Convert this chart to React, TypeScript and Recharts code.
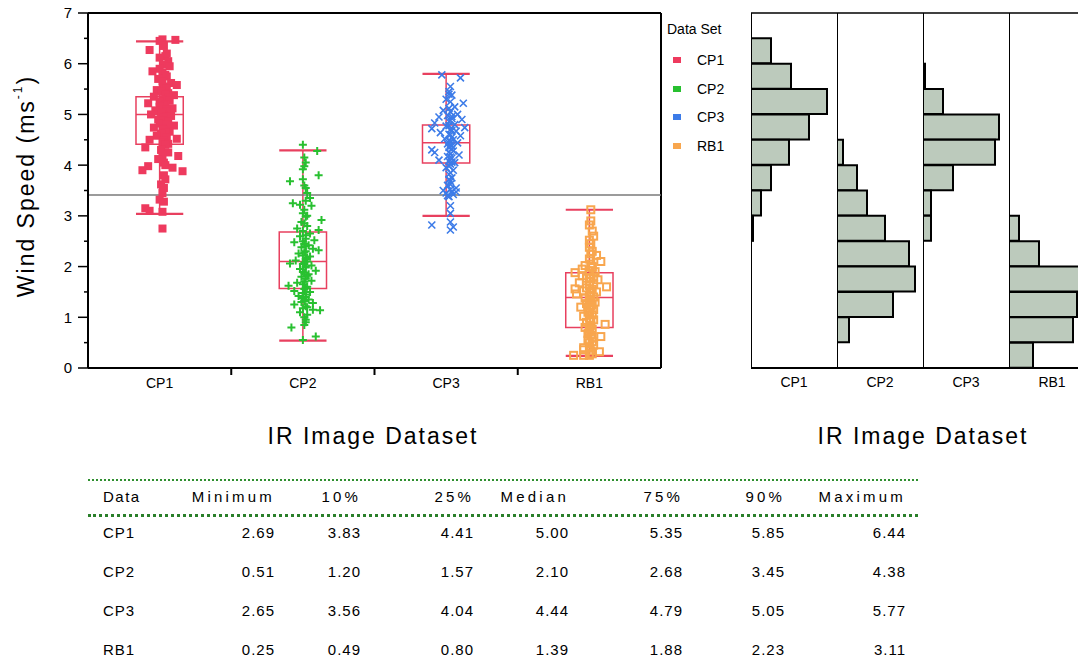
import React from "react";
import { ComposedChart, Scatter, XAxis, YAxis, ReferenceLine, ReferenceArea, BarChart, Bar } from "recharts";

const categories = ["CP1", "CP2", "CP3", "RB1"];

// [wind speed, jitter in category units]
const cp1Points = [
  [6.48, 0.02], [6.47, 0.11], [6.45, 0.0], [6.35, 0.03], [6.27, -0.07], [6.2, 0.05], [6.15, 0.04], [6.12, 0.0],
  [6.05, 0.06], [5.98, 0.03], [5.95, 0.07], [5.9, 0.0], [5.85, -0.05], [5.82, 0.02], [5.78, 0.04], [5.75, 0.05],
  [5.7, -0.01], [5.65, 0.02], [5.62, 0.08], [5.58, 0.12], [5.55, 0.03], [5.52, 0.05], [5.48, -0.02], [5.45, 0.01],
  [5.42, 0.06], [5.4, 0.04], [5.38, 0.1], [5.35, -0.04], [5.33, 0.06], [5.3, 0.02], [5.27, 0.07], [5.25, 0.0],
  [5.22, -0.08], [5.2, 0.04], [5.18, 0.03], [5.15, 0.0], [5.12, 0.09], [5.1, 0.05], [5.08, -0.03], [5.05, 0.05],
  [5.04, 0.02], [5.02, 0.01], [5.0, -0.06], [4.97, 0.08], [4.95, 0.05], [4.93, 0.03], [4.9, -0.01], [4.88, 0.03],
  [4.86, 0.06], [4.82, 0.0], [4.8, 0.05], [4.78, 0.1], [4.74, -0.04], [4.72, 0.02], [4.7, 0.03], [4.66, 0.07],
  [4.64, 0.04], [4.62, 0.01], [4.58, -0.02], [4.55, 0.05], [4.52, 0.12], [4.5, -0.07], [4.48, 0.03], [4.45, 0.02],
  [4.42, 0.06], [4.4, 0.04], [4.35, -0.1], [4.3, 0.01], [4.25, 0.06], [4.2, 0.02], [4.18, 0.13], [4.12, -0.01],
  [4.05, 0.03], [4.0, 0.04], [3.98, -0.08], [3.95, 0.09], [3.9, -0.12], [3.88, 0.16], [3.8, 0.03], [3.72, 0.04],
  [3.62, 0.01], [3.55, 0.03], [3.45, 0.02], [3.32, 0.0], [3.28, 0.03], [3.15, -0.1], [3.1, -0.07], [3.08, 0.02],
  [2.75, 0.02],
];
const cp2Points = [
  [4.4, 0.0], [4.28, 0.1], [4.15, 0.01], [4.05, 0.02], [3.98, 0.01], [3.92, 0.0], [3.8, 0.11], [3.72, 0.0],
  [3.68, -0.09], [3.6, 0.01], [3.55, 0.02], [3.45, 0.03], [3.35, 0.05], [3.3, 0.02], [3.25, -0.07], [3.22, -0.02],
  [3.2, 0.06], [3.12, 0.01], [3.05, 0.0], [3.0, 0.03], [2.98, 0.02], [2.92, 0.13], [2.88, -0.01], [2.85, 0.01],
  [2.8, 0.03], [2.75, -0.04], [2.72, 0.11], [2.7, 0.0], [2.65, 0.05], [2.62, 0.02], [2.6, -0.02], [2.55, 0.02],
  [2.52, 0.08], [2.5, 0.0], [2.48, -0.06], [2.45, 0.01], [2.42, 0.04], [2.4, 0.02], [2.38, -0.01], [2.35, 0.07],
  [2.32, 0.11], [2.3, 0.02], [2.28, 0.01], [2.26, -0.03], [2.22, 0.0], [2.2, 0.05], [2.18, 0.03], [2.15, 0.02],
  [2.12, -0.05], [2.1, 0.03], [2.08, 0.01], [2.06, -0.09], [2.05, 0.0], [2.02, 0.06], [2.0, 0.02], [1.98, 0.02],
  [1.95, -0.02], [1.92, 0.09], [1.9, 0.0], [1.88, 0.01], [1.85, 0.04], [1.82, 0.03], [1.8, -0.01], [1.76, 0.02],
  [1.72, 0.06], [1.7, 0.01], [1.68, -0.04], [1.65, 0.0], [1.62, -0.1], [1.6, 0.03], [1.58, 0.02], [1.56, 0.01],
  [1.52, -0.06], [1.5, 0.05], [1.48, 0.0], [1.45, 0.02], [1.42, -0.03], [1.4, 0.02], [1.38, 0.0], [1.35, 0.04],
  [1.32, 0.01], [1.3, -0.01], [1.28, 0.07], [1.25, -0.06], [1.22, 0.02], [1.2, 0.03], [1.18, 0.0], [1.15, 0.07],
  [1.14, 0.12], [1.1, -0.02], [1.05, 0.03], [1.0, 0.01], [0.95, 0.02], [0.9, 0.02], [0.85, 0.01], [0.8, -0.08],
  [0.62, 0.09], [0.55, 0.0],
];
const cp3Points = [
  [5.78, -0.03], [5.72, 0.1], [5.55, 0.03], [5.45, 0.02], [5.4, 0.02], [5.38, 0.04], [5.3, 0.0], [5.25, 0.03],
  [5.22, 0.12], [5.15, 0.06], [5.12, 0.02], [5.08, -0.02], [5.05, 0.03], [5.0, 0.08], [4.98, 0.01], [4.96, 0.04],
  [4.95, -0.05], [4.92, 0.04], [4.9, 0.11], [4.88, 0.03], [4.86, 0.02], [4.83, -0.08], [4.8, 0.06], [4.78, 0.02],
  [4.77, 0.0], [4.74, 0.13], [4.72, -0.1], [4.7, 0.03], [4.68, 0.04], [4.67, 0.07], [4.64, -0.04], [4.61, 0.02],
  [4.6, 0.03], [4.58, 0.1], [4.55, 0.04], [4.52, -0.01], [4.5, 0.05], [4.48, 0.02], [4.47, 0.03], [4.44, 0.08],
  [4.42, 0.01], [4.4, 0.03], [4.38, 0.04], [4.35, 0.02], [4.32, 0.04], [4.3, -0.1], [4.28, 0.05], [4.26, 0.02],
  [4.25, -0.08], [4.22, 0.03], [4.2, 0.09], [4.17, 0.01], [4.16, 0.03], [4.14, 0.04], [4.1, -0.05], [4.08, 0.02],
  [4.06, 0.04], [4.05, 0.06], [4.02, 0.03], [3.98, 0.02], [3.95, 0.0], [3.9, 0.05], [3.85, 0.03], [3.82, 0.02],
  [3.75, 0.04], [3.72, 0.02], [3.68, 0.03], [3.62, 0.03], [3.6, 0.01], [3.55, 0.07], [3.52, 0.03], [3.5, -0.02],
  [3.48, 0.04], [3.47, 0.07], [3.45, 0.0], [3.42, 0.05], [3.4, 0.01], [3.38, 0.02], [3.2, 0.03], [3.05, 0.03],
  [2.88, 0.03], [2.82, -0.1], [2.78, 0.05], [2.72, 0.03],
];
const rb1Points = [
  [3.12, 0.01], [2.9, 0.01], [2.82, 0.0], [2.7, 0.02], [2.6, 0.03], [2.52, 0.0], [2.45, 0.01], [2.38, 0.0],
  [2.3, 0.02], [2.25, 0.01], [2.22, 0.05], [2.15, 0.0], [2.1, 0.08], [2.05, 0.01], [2.02, -0.03], [2.0, 0.02],
  [1.98, 0.02], [1.95, -0.05], [1.92, 0.0], [1.9, 0.04], [1.88, -0.1], [1.85, 0.0], [1.82, -0.05], [1.8, 0.03],
  [1.78, 0.01], [1.77, -0.02], [1.74, 0.06], [1.7, 0.0], [1.68, -0.07], [1.65, 0.03], [1.62, 0.0], [1.6, 0.12],
  [1.58, -0.02], [1.56, -0.1], [1.55, 0.02], [1.52, -0.04], [1.5, 0.05], [1.48, 0.01], [1.46, -0.09], [1.43, 0.0],
  [1.4, 0.03], [1.38, -0.03], [1.35, 0.01], [1.33, 0.0], [1.3, 0.04], [1.27, -0.02], [1.24, 0.02], [1.22, 0.01],
  [1.2, -0.06], [1.18, 0.0], [1.15, 0.03], [1.1, -0.01], [1.08, 0.0], [1.05, 0.02], [1.02, -0.04], [0.98, 0.0],
  [0.95, 0.03], [0.92, 0.01], [0.9, -0.02], [0.86, 0.11], [0.84, 0.01], [0.8, -0.03], [0.78, 0.0], [0.76, 0.02],
  [0.72, 0.0], [0.68, -0.01], [0.65, 0.01], [0.62, 0.08], [0.6, 0.02], [0.55, -0.01], [0.52, 0.02], [0.5, 0.0],
  [0.45, 0.03], [0.42, 0.0], [0.4, -0.04], [0.36, -0.04], [0.34, 0.01], [0.32, 0.07], [0.28, 0.02], [0.25, -0.11],
  [0.25, -0.04], [0.25, 0.0],
];

// whisker low, Q1, median, Q3, whisker high
const cp1Box = [3.04, 4.41, 5.0, 5.35, 6.44];
const cp2Box = [0.54, 1.57, 2.1, 2.68, 4.29];
const cp3Box = [3.0, 4.04, 4.44, 4.79, 5.8];
const rb1Box = [0.24, 0.8, 1.39, 1.88, 3.12];
const refLevel = 3.41;

// histogram bins, top to bottom
const histBins = [
  "6.5-7.0", "6.0-6.5", "5.5-6.0", "5.0-5.5", "4.5-5.0", "4.0-4.5", "3.5-4.0",
  "3.0-3.5", "2.5-3.0", "2.0-2.5", "1.5-2.0", "1.0-1.5", "0.5-1.0", "0.0-0.5",
];
const cp1Hist = [0, 10, 20, 38, 29, 19, 10, 5, 1, 0, 0, 0, 0, 0];
const cp2Hist = [0, 0, 0, 0, 0, 3, 10, 15, 24, 36, 39, 28, 6, 0];
const cp3Hist = [0, 0, 1, 10, 38, 36, 15, 4, 4, 0, 0, 0, 0, 0];
const rb1Hist = [0, 0, 0, 0, 0, 0, 0, 0, 5, 15, 39, 34, 32, 12];

const statHeaders = ["Data", "Minimum", "10%", "25%", "Median", "75%", "90%", "Maximum"];
const cp1Stats = [2.69, 3.83, 4.41, 5.0, 5.35, 5.85, 6.44];
const cp2Stats = [0.51, 1.2, 1.57, 2.1, 2.68, 3.45, 4.38];
const cp3Stats = [2.65, 3.56, 4.04, 4.44, 4.79, 5.05, 5.77];
const rb1Stats = [0.25, 0.49, 0.8, 1.39, 1.88, 2.23, 3.11];

const FONT = '"Liberation Sans", Arial, sans-serif';
const PLOT_LEFT = 88;
const PLOT_BOTTOM = 368;
const BOX_HALF = 0.165;
const BOX_COLOR = "#e8405f";
const COLORS = ["#ee3a5e", "#28c030", "#3c7be8", "#f8a64e"];
const HIST_W = 86;
const HIST_LEFT = 751;

const pointSets = [cp1Points, cp2Points, cp3Points, rb1Points];
const boxes = [cp1Box, cp2Box, cp3Box, rb1Box];
const hists = [cp1Hist, cp2Hist, cp3Hist, rb1Hist];
const statRows = [cp1Stats, cp2Stats, cp3Stats, rb1Stats];

const histData = histBins.map((bin, i) => {
  const row: any = { bin };
  categories.forEach((c, k) => (row[c] = hists[k][i]));
  return row;
});

function XTick(props: any) {
  const { x, payload } = props;
  const v = payload.value;
  if (Number.isInteger(v)) {
    return (
      <text x={x} y={PLOT_BOTTOM + 20} textAnchor="middle" fontSize={14} fontFamily={FONT} fill="#000">
        {categories[v - 1]}
      </text>
    );
  }
  return <line x1={x} x2={x} y1={PLOT_BOTTOM} y2={PLOT_BOTTOM + 7} stroke="#000" strokeWidth={2} />;
}

function YTick(props: any) {
  const { y, payload } = props;
  const v = payload.value;
  if (Number.isInteger(v)) {
    return (
      <g>
        <line x1={PLOT_LEFT - 10} x2={PLOT_LEFT} y1={y} y2={y} stroke="#000" strokeWidth={1.5} />
        <text x={PLOT_LEFT - 16} y={y} dy="0.36em" textAnchor="end" fontSize={15} fontFamily={FONT} fill="#000">
          {v}
        </text>
      </g>
    );
  }
  return <line x1={PLOT_LEFT - 4} x2={PLOT_LEFT} y1={y} y2={y} stroke="#000" strokeWidth={1.5} />;
}

function YLabel() {
  const cx = 26;
  const cy = 186;
  return (
    <text
      x={cx}
      y={cy}
      transform={`rotate(-90 ${cx} ${cy})`}
      textAnchor="middle"
      dominantBaseline="central"
      fontSize={23}
      fontFamily={FONT}
      fill="#000"
      style={{ letterSpacing: 2 }}
    >
      Wind Speed (ms
      <tspan dy={-8} fontSize={12}>-1</tspan>
      <tspan dy={8}>)</tspan>
    </text>
  );
}

const shapes = [
  (p: any) => <rect x={p.cx - 4} y={p.cy - 4} width={8} height={8} fill={COLORS[0]} />,
  (p: any) => (
    <path d={`M${p.cx - 4},${p.cy}H${p.cx + 4}M${p.cx},${p.cy - 4}V${p.cy + 4}`} stroke={COLORS[1]} strokeWidth={2} />
  ),
  (p: any) => (
    <path
      d={`M${p.cx - 3.5},${p.cy - 3.5}L${p.cx + 3.5},${p.cy + 3.5}M${p.cx - 3.5},${p.cy + 3.5}L${p.cx + 3.5},${p.cy - 3.5}`}
      stroke={COLORS[2]}
      strokeWidth={1.6}
    />
  ),
  (p: any) => (
    <rect x={p.cx - 3.5} y={p.cy - 3.5} width={7} height={7} fill="none" stroke={COLORS[3]} strokeWidth={2} />
  ),
];

function MainChart() {
  return (
    <ComposedChart width={680} height={400} margin={{ top: 13, right: 19, bottom: 0, left: 0 }}>
      <XAxis
        type="number"
        dataKey="x"
        domain={[0.5, 4.5]}
        ticks={[1, 1.5, 2, 2.5, 3, 3.5, 4]}
        interval={0}
        height={32}
        axisLine={{ stroke: "#000", strokeWidth: 2 }}
        tickLine={false}
        tick={<XTick />}
      />
      <YAxis
        type="number"
        dataKey="y"
        domain={[0, 7]}
        ticks={[0, 0.5, 1, 1.5, 2, 2.5, 3, 3.5, 4, 4.5, 5, 5.5, 6, 6.5, 7]}
        interval={0}
        width={PLOT_LEFT}
        axisLine={{ stroke: "#000", strokeWidth: 2 }}
        tickLine={false}
        tick={<YTick />}
        label={<YLabel />}
      />
      <ReferenceLine y={7} stroke="#000" strokeWidth={2} />
      <ReferenceLine x={4.5} stroke="#000" strokeWidth={2} />
      {boxes.flatMap((b, i) => {
        const c = i + 1;
        const [lo, q1, med, q3, hi] = b;
        return [
          <ReferenceLine key={`wl${i}`} segment={[{ x: c, y: lo }, { x: c, y: q1 }]} stroke={BOX_COLOR} strokeWidth={1.5} />,
          <ReferenceLine key={`wh${i}`} segment={[{ x: c, y: q3 }, { x: c, y: hi }]} stroke={BOX_COLOR} strokeWidth={1.5} />,
          <ReferenceArea key={`b${i}`} x1={c - BOX_HALF} x2={c + BOX_HALF} y1={q1} y2={q3} fill="none" fillOpacity={0} stroke={BOX_COLOR} strokeWidth={1.5} />,
          <ReferenceLine key={`m${i}`} segment={[{ x: c - BOX_HALF, y: med }, { x: c + BOX_HALF, y: med }]} stroke={BOX_COLOR} strokeWidth={1.5} />,
          <ReferenceLine key={`cl${i}`} segment={[{ x: c - BOX_HALF, y: lo }, { x: c + BOX_HALF, y: lo }]} stroke={BOX_COLOR} strokeWidth={2.2} />,
          <ReferenceLine key={`ch${i}`} segment={[{ x: c - BOX_HALF, y: hi }, { x: c + BOX_HALF, y: hi }]} stroke={BOX_COLOR} strokeWidth={2.2} />,
        ];
      })}
      <ReferenceLine y={refLevel} stroke="#7a7a7a" strokeWidth={1.5} />
      {pointSets.map((pts, i) => (
        <Scatter
          key={categories[i]}
          name={categories[i]}
          data={pts.map(([v, j]) => ({ x: i + 1 + j, y: v }))}
          shape={shapes[i]}
          isAnimationActive={false}
        />
      ))}
    </ComposedChart>
  );
}

function HistPanel({ name, left }: { name: string; left: number }) {
  return (
    <div style={{ position: "absolute", left, top: 0 }}>
      <BarChart
        layout="vertical"
        width={HIST_W}
        height={400}
        data={histData}
        margin={{ top: 13, right: 0, bottom: 0, left: 0 }}
        barCategoryGap={0}
      >
        <XAxis
          type="number"
          domain={[0, 43]}
          height={32}
          tick={false}
          tickLine={false}
          axisLine={{ stroke: "#000", strokeWidth: 2 }}
          label={{ value: name, position: "insideTop", offset: 9, fontSize: 14, fill: "#000", fontFamily: FONT }}
        />
        <YAxis type="category" dataKey="bin" hide />
        <ReferenceLine y={histBins[0]} position="start" stroke="#000" strokeWidth={1.5} />
        <Bar dataKey={name} fill="#bccabc" stroke="#000" strokeWidth={2} isAnimationActive={false} />
        <ReferenceLine x={0} stroke="#000" strokeWidth={2} />
      </BarChart>
    </div>
  );
}

const colRight = [275, 361, 474, 569, 683, 785, 906];
const rowY = [533, 572, 611, 650];

function StatsTable() {
  const cell = (text: string, right: number, y: number, spacing: number, key: string) => (
    <div
      key={key}
      style={{
        position: "absolute",
        left: right - 120,
        width: 120,
        top: y - 10,
        lineHeight: "20px",
        textAlign: "right",
        fontSize: 15,
        letterSpacing: spacing,
      }}
    >
      {text}
    </div>
  );
  const leftCell = (text: string, y: number, spacing: number, key: string) => (
    <div key={key} style={{ position: "absolute", left: 103, top: y - 10, lineHeight: "20px", fontSize: 15, letterSpacing: spacing }}>
      {text}
    </div>
  );
  return (
    <>
      <div style={{ position: "absolute", left: 88, width: 830, top: 479, height: 0, borderTop: "2px dotted #2f8f2f" }} />
      <div style={{ position: "absolute", left: 88, width: 830, top: 514, height: 0, borderTop: "3px dotted #2a7f2a" }} />
      <div style={{ position: "absolute", left: 88, width: 830, top: 658, height: 0, borderTop: "2px dotted #2f8f2f" }} />
      {leftCell(statHeaders[0], 497, 1.5, "h0")}
      {statHeaders.slice(1).map((h, k) => cell(h, colRight[k], 497, 3.2, `h${k + 1}`))}
      {statRows.map((row, r) => (
        <React.Fragment key={categories[r]}>
          {leftCell(categories[r], rowY[r], 1, `r${r}`)}
          {row.map((v, k) => cell(v.toFixed(2), colRight[k], rowY[r], 1, `c${r}-${k}`))}
        </React.Fragment>
      ))}
    </>
  );
}

export default function App() {
  return (
    <div
      style={{
        position: "relative",
        width: 1086,
        height: 664,
        margin: -8,
        overflow: "hidden",
        background: "#fff",
        fontFamily: FONT,
        color: "#000",
      }}
    >
      <div style={{ position: "absolute", left: 0, top: 0 }}>
        <MainChart />
      </div>
      <div style={{ position: "absolute", left: 667, top: 21, fontSize: 14 }}>Data Set</div>
      {categories.map((c, i) => (
        <div key={c} style={{ position: "absolute", left: 673, top: 50 + i * 28.5, height: 20, display: "flex", alignItems: "center" }}>
          <span style={{ display: "inline-block", width: 8, height: 6, background: COLORS[i], marginRight: 16 }} />
          <span style={{ fontSize: 14 }}>{c}</span>
        </div>
      ))}
      {categories.map((c, i) => (
        <HistPanel key={c} name={c} left={HIST_LEFT + i * HIST_W} />
      ))}
      <div style={{ position: "absolute", left: 223, width: 300, top: 423, textAlign: "center", fontSize: 23, letterSpacing: 2 }}>
        IR Image Dataset
      </div>
      <div style={{ position: "absolute", left: 773, width: 300, top: 423, textAlign: "center", fontSize: 23, letterSpacing: 2 }}>
        IR Image Dataset
      </div>
      <StatsTable />
    </div>
  );
}
